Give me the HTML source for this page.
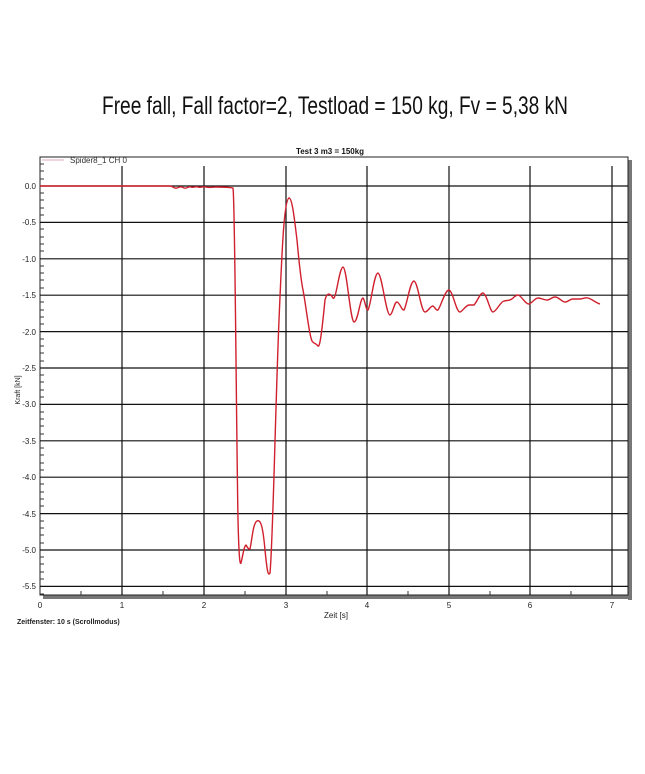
<!DOCTYPE html>
<html><head><meta charset="utf-8"><style>
html,body{margin:0;padding:0;background:#fff;}
svg{display:block;}
</style></head><body>
<svg width="645" height="774" viewBox="0 0 645 774" xmlns="http://www.w3.org/2000/svg" font-family="Liberation Sans, sans-serif">
<text x="335" y="114" text-anchor="middle" font-size="25" textLength="466" lengthAdjust="spacingAndGlyphs" fill="#111">Free fall, Fall factor=2,  Testload = 150 kg, Fv = 5,38 kN</text>
<text x="330" y="154" text-anchor="middle" font-size="8" font-weight="bold" fill="#111">Test 3 m3 = 150kg</text>
<rect x="628" y="160" width="4" height="440" fill="#777"/>
<rect x="43" y="595" width="589" height="4" fill="#777"/>
<rect x="40" y="157" width="588" height="438" fill="#fff" stroke="#222" stroke-width="1"/>
<g stroke="#111" stroke-width="1.2">
<line x1="40" y1="186" x2="628" y2="186"/>
<line x1="40" y1="222.4" x2="628" y2="222.4"/>
<line x1="40" y1="258.8" x2="628" y2="258.8"/>
<line x1="40" y1="295.2" x2="628" y2="295.2"/>
<line x1="40" y1="331.6" x2="628" y2="331.6"/>
<line x1="40" y1="368" x2="628" y2="368"/>
<line x1="40" y1="404.4" x2="628" y2="404.4"/>
<line x1="40" y1="440.8" x2="628" y2="440.8"/>
<line x1="40" y1="477.2" x2="628" y2="477.2"/>
<line x1="40" y1="513.6" x2="628" y2="513.6"/>
<line x1="40" y1="550" x2="628" y2="550"/>
<line x1="40" y1="586.4" x2="628" y2="586.4"/>
<line x1="122" y1="166" x2="122" y2="595"/>
<line x1="204" y1="166" x2="204" y2="595"/>
<line x1="286" y1="166" x2="286" y2="595"/>
<line x1="367" y1="166" x2="367" y2="595"/>
<line x1="449" y1="166" x2="449" y2="595"/>
<line x1="530" y1="166" x2="530" y2="595"/>
<line x1="612" y1="166" x2="612" y2="595"/>
</g>
<g stroke="#333" stroke-width="1">
<path d="M40 164h4M40 171h4M40 179h4M40 193h4M40 200h4M40 208h4M40 215h4M40 229h4M40 237h4M40 244h4M40 251h4M40 266h4M40 273h4M40 280h4M40 288h4M40 302h4M40 310h4M40 317h4M40 324h4M40 339h4M40 346h4M40 353h4M40 361h4M40 375h4M40 382h4M40 390h4M40 397h4M40 412h4M40 419h4M40 426h4M40 434h4M40 448h4M40 455h4M40 463h4M40 470h4M40 484h4M40 492h4M40 499h4M40 506h4M40 521h4M40 528h4M40 535h4M40 543h4M40 557h4M40 564h4M40 572h4M40 579h4M40 594h4"/>
<path d="M81 595v-4M163 595v-4M245 595v-4M327 595v-4M408 595v-4M490 595v-4M571 595v-4"/>
</g>
<line x1="42" y1="160" x2="64" y2="160" stroke="#e8c8d0" stroke-width="1.5"/>
<text x="70" y="163" font-size="8" fill="#333">Spider8_1 CH 0</text>
<g font-size="8" fill="#222" text-anchor="end">
<text x="36" y="189">0.0</text><text x="36" y="225">-0.5</text><text x="36" y="262">-1.0</text><text x="36" y="298">-1.5</text><text x="36" y="335">-2.0</text><text x="36" y="371">-2.5</text><text x="36" y="407">-3.0</text><text x="36" y="444">-3.5</text><text x="36" y="480">-4.0</text><text x="36" y="517">-4.5</text><text x="36" y="553">-5.0</text><text x="36" y="589">-5.5</text>
</g>
<g font-size="8" fill="#222" text-anchor="middle">
<text x="40" y="608">0</text><text x="122" y="608">1</text><text x="204" y="608">2</text><text x="286" y="608">3</text><text x="367" y="608">4</text><text x="449" y="608">5</text><text x="530" y="608">6</text><text x="612" y="608">7</text>
<text x="336" y="618">Zeit [s]</text>
</g>
<text transform="translate(20,390) rotate(-90)" font-size="7" text-anchor="middle" fill="#222">Kraft [kN]</text>
<text x="17" y="624" font-size="7" font-weight="bold" fill="#222">Zeitfenster: 10 s (Scrollmodus)</text>
<path fill="none" stroke="#d0202e" stroke-width="1.4" stroke-linejoin="round" d="M40 186 L170 186 C173 186 174 189 177 188 C180 187 181 186 184 188 C187 189 188 186 191 187 C194 188 195 186 198 187 C201 188 202 186 206 187 C210 188 213 187 216 187 C222 187 228 187 233 188 C235 200 236 400 238 520 C239 560 240 565 241 563 C243 555 244 546 246 545 C247 546 248 550 250 549 C252 540 253 523 257 521 C261 519 263 528 265 550 C267 570 268 577 270 573 C273 540 275 420 279 320 C282 250 284 200 289 198 C292 198 294 215 297 240 C299 262 301 280 303 290 C306 305 309 335 312 341 C314 344 316 343 318 346 C320 348 322 330 325 300 C327 292 330 293 333 298 C336 302 339 268 343 267 C347 268 350 320 354 322 C358 322 360 298 363 298 C365 300 366 311 368 310 C371 305 374 273 378 273 C382 274 386 315 390 315 C393 314 394 302 397 302 C400 303 402 311 404 310 C407 305 410 281 414 281 C418 282 421 312 425 312 C428 312 430 306 433 306 C435 307 436 311 438 310 C441 306 445 290 449 290 C453 291 456 312 460 312 C463 311 466 305 469 305 L474 305 C477 302 480 293 483 293 C487 294 490 312 493 312 C497 311 500 302 504 301 L510 300 C513 299 515 295 518 295 C522 296 525 304 529 304 C532 303 535 298 538 298 C541 298 544 300 547 300 C550 300 552 297 555 297 C559 297 562 302 565 302 C568 302 570 299 573 299 L580 299 C583 299 585 297 588 298 C592 299 596 303 600 304"/>
</svg>
</body></html>
